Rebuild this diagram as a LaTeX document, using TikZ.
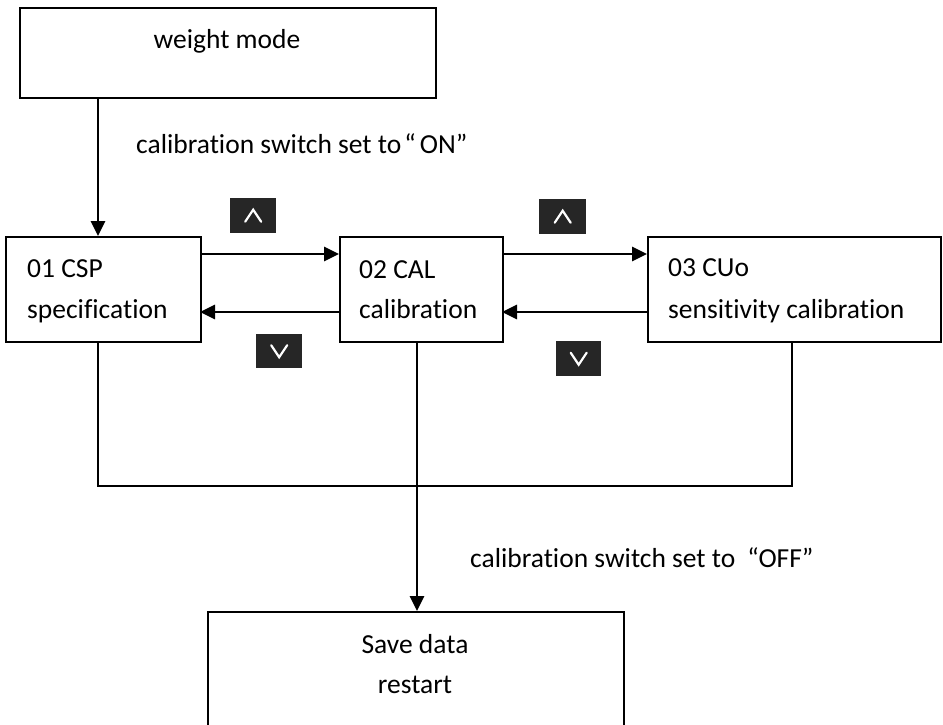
\documentclass[tikz,border=0pt]{standalone}
\usepackage{fontspec}
\setmainfont[Ligatures=NoCommon]{Carlito}
\usetikzlibrary{arrows.meta}
\definecolor{btn}{HTML}{262626}
\tikzset{
  box/.style={draw=black, line width=2.2pt, fill=none, inner sep=0pt},
  lbl/.style={inner sep=0pt, font=\fontsize{27.5pt}{33pt}\selectfont, text=black},
  arr/.style={line width=2.8pt, -{Triangle[length=15pt,width=14pt]}},
  thin/.style={line width=1.9pt},
  key/.style={fill=btn, draw=none, inner sep=0pt},
  chev/.style={draw=white, line width=2.2pt, line cap=round, line join=miter}
}
\begin{document}
\begin{tikzpicture}[x=1pt,y=-1pt]
\clip (0,0) rectangle (943,724);
\fill[white] (0,0) rectangle (943,724);
% boxes
\node[box, anchor=north west, minimum width=416pt, minimum height=90pt] (wm) at (19,7) {};
\node[box, anchor=north west, minimum width=195pt, minimum height=105pt] (b1) at (5,236) {};
\node[box, anchor=north west, minimum width=163pt, minimum height=105pt] (b2) at (339,236) {};
\node[box, anchor=north west, minimum width=293pt, minimum height=105pt] (b3) at (647,236) {};
\node[box, anchor=north west, minimum width=416pt, minimum height=140pt] (sv) at (207,611) {};
% texts
\node[lbl, anchor=base] (twm) at (227,48) {weight mode};
\node[lbl, anchor=base west] (t1a) at (27,277) {01 CSP};
\node[lbl, anchor=base west] (t1b) at (27,318) {specification};
\node[lbl, anchor=base west] (t2a) at (359,278) {02 CAL};
\node[lbl, anchor=base west] (t2b) at (359,318) {calibration};
\node[lbl, anchor=base west] (t3a) at (668,276) {03 CUo};
\node[lbl, anchor=base west] (t3b) at (668,318) {sensitivity calibration};
\node[lbl, anchor=base] (tsa) at (415,653) {Save data};
\node[lbl, anchor=base] (tsb) at (415,693) {restart};
\node[lbl, anchor=base west] (on) at (136,153) {calibration switch set to\hspace{3pt}“\hspace{4pt}ON”};
\node[lbl, anchor=base west] (off) at (470,567) {calibration switch set to\hspace{12pt}“OFF”};
% coordinates
\coordinate (wmout) at (98,97);
\coordinate (b1in) at (98,236);
\coordinate (b1r1) at (200,254);
\coordinate (b1r2) at (200,312);
\coordinate (b2l1) at (339,254);
\coordinate (b2l2) at (339,312);
\coordinate (b2r1) at (502,254);
\coordinate (b2r2) at (502,312);
\coordinate (b3l1) at (647,254);
\coordinate (b3l2) at (647,312);
\coordinate (b1b) at (98,341);
\coordinate (b2b) at (417,341);
\coordinate (b3b) at (792,341);
\coordinate (j1) at (98,486);
\coordinate (j2) at (417,486);
\coordinate (j3) at (792,486);
\coordinate (svin) at (417,611);
% connectors
\draw[arr] (wmout) -- (b1in);
\draw[arr] (b1r1) -- (b2l1);
\draw[arr] (b2l2) -- (b1r2);
\draw[arr] (b2r1) -- (b3l1);
\draw[arr] (b3l2) -- (b2r2);
\draw[thin] (b1b) -- (j1) -- (j3) -- (b3b);
\draw[thin] (b2b) -- (j2);
\draw[arr] (j2) -- (svin);
% keys
\node[key, anchor=north west, minimum width=46pt, minimum height=35pt] (k1) at (230,198) {};
\node[key, anchor=north west, minimum width=47pt, minimum height=35pt] (k2) at (539,199) {};
\node[key, anchor=north west, minimum width=46pt, minimum height=34pt] (k3) at (256,334) {};
\node[key, anchor=north west, minimum width=45pt, minimum height=35pt] (k4) at (556,341) {};
\draw[chev] ([shift={(-8,6)}]k1.center) -- ([shift={(0,-6)}]k1.center) -- ([shift={(8,6)}]k1.center);
\draw[chev] ([shift={(-8,6)}]k2.center) -- ([shift={(0,-6)}]k2.center) -- ([shift={(8,6)}]k2.center);
\draw[chev] ([shift={(-8,-6)}]k3.center) -- ([shift={(0,6)}]k3.center) -- ([shift={(8,-6)}]k3.center);
\draw[chev] ([shift={(-8,-6)}]k4.center) -- ([shift={(0,6)}]k4.center) -- ([shift={(8,-6)}]k4.center);
\end{tikzpicture}
\end{document}
